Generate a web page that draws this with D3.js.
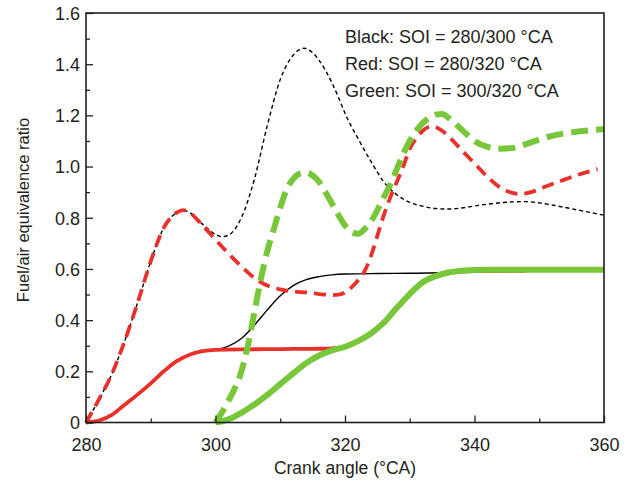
<!DOCTYPE html>
<html>
<head>
<meta charset="utf-8">
<script src="https://cdn.jsdelivr.net/npm/d3@7"></script>
<style>
  body { margin: 0; background: #fff; }
  svg { display: block; }
  text { font-family: "Liberation Sans", Arial, sans-serif; fill: #231f20; }
</style>
</head>
<body>
<svg id="chart" width="630" height="481"></svg>
<script>
// ---- data (crank angle °CA, fuel/air equivalence ratio) ----
const xTicks = [280, 300, 320, 340, 360];
const yTicks = [0, 0.2, 0.4, 0.6, 0.8, 1.0, 1.2, 1.4, 1.6];
const yTickLabels = ["0", "0.2", "0.4", "0.6", "0.8", "1.0", "1.2", "1.4", "1.6"];
const legendLines = ["Black: SOI = 280/300 °CA", "Red: SOI = 280/320 °CA", "Green: SOI = 300/320 °CA"];

const blackDashed = [
  [280,0],[282,0.09],[284,0.19],[286,0.32],[288,0.47],[290,0.63],[292,0.76],[294,0.82],[295,0.83],
  [296,0.82],[298,0.775],[300,0.735],[301,0.726],[302,0.732],[304,0.80],[306,0.95],[308,1.16],
  [310,1.34],[312,1.435],[313.7,1.462],[315,1.445],[317,1.375],[319,1.27],[320,1.208],[322,1.11],
  [324,1.02],[326,0.94],[328,0.89],[330,0.86],[332,0.845],[334,0.836],[336,0.834],[338,0.838],
  [340,0.846],[343,0.856],[346,0.862],[348,0.863],[350,0.858],[353,0.845],[356,0.83],[360,0.81]
];
const redDashed = [
  [280,0],[282,0.09],[284,0.19],[286,0.32],[288,0.47],[290,0.63],[292,0.76],[294,0.82],[295,0.83],
  [296,0.82],[298,0.77],[300,0.715],[302,0.66],[304,0.61],[306,0.565],[308,0.535],[310,0.52],
  [312,0.512],[314,0.508],[316,0.502],[318,0.498],[319,0.5],[320,0.508],[321,0.528],[322,0.555],
  [323,0.59],[324,0.65],[325,0.73],[326,0.81],[327,0.88],[328,0.94],[329,1.0],[330,1.07],
  [331,1.11],[332,1.14],[333.5,1.158],[335,1.14],[336.5,1.105],[338,1.065],[340,1.012],
  [342,0.96],[344,0.918],[346,0.896],[347,0.893],[349,0.902],[351,0.922],[354,0.95],[356,0.968],[359,0.99]
];
const greenDashed = [
  [300,0],[301,0.04],[302,0.085],[303,0.135],[304,0.2],[305,0.3],[306,0.43],[307,0.56],[308,0.67],
  [309,0.755],[310,0.84],[311,0.91],[312,0.952],[313,0.972],[314,0.976],[315,0.965],[316,0.94],
  [317,0.9],[318,0.855],[319,0.81],[320,0.77],[321,0.745],[322,0.737],[323,0.755],[324,0.785],
  [325,0.83],[326,0.88],[327,0.93],[328,0.99],[329,1.05],[330,1.10],[331,1.14],[332,1.17],
  [333,1.19],[334,1.203],[335,1.205],[336,1.19],[338,1.145],[340,1.10],[342,1.077],[344,1.07],
  [346,1.073],[348,1.088],[350,1.106],[352,1.12],[354,1.13],[356,1.137],[358,1.142],[360,1.146]
];
const blackSolid = [
  [280,0],[282,0.008],[284,0.03],[286,0.07],[288,0.11],[290,0.153],[292,0.2],[294,0.24],[296,0.265],
  [298,0.279],[300,0.284],[302,0.298],[304,0.328],[306,0.38],[308,0.44],[310,0.495],[312,0.535],
  [314,0.558],[316,0.57],[318,0.577],[320,0.58],[325,0.582],[330,0.583],[335,0.585],[340,0.588],[345,0.59]
];
const redSolid = [
  [280,0],[282,0.008],[284,0.03],[286,0.07],[288,0.11],[290,0.153],[292,0.2],[294,0.24],[296,0.265],
  [298,0.279],[300,0.284],[305,0.286],[310,0.287],[315,0.288],[318,0.29],[320,0.295],[322,0.316],
  [324,0.346],[326,0.388],[328,0.446],[330,0.5],[332,0.546],[334,0.57],[336,0.584],[338,0.59],
  [340,0.592],[344,0.593],[348,0.593]
];
const greenSolid = [
  [300,0],[302,0.012],[304,0.038],[306,0.07],[308,0.108],[310,0.15],
  [312,0.192],[314,0.232],[316,0.262],[318,0.282],[320,0.296],[322,0.318],[324,0.348],
  [326,0.39],[328,0.448],[330,0.502],[332,0.548],[334,0.572],[336,0.586],[338,0.593],[340,0.596],
  [350,0.597],[360,0.597]
];

// ---- layout ----
const svg = d3.select("#chart");
const L = 86, R = 604, T = 13, B = 422.5;
const x = d3.scaleLinear().domain([280, 360]).range([L, R]);
const y = d3.scaleLinear().domain([0, 1.6]).range([B, T]);

const red = "#e8312a", green = "#78c73b";

const plot = svg.append("g");
plot.append("clipPath").attr("id", "clip").append("rect")
  .attr("x", L - 3).attr("y", T).attr("width", R - L + 6).attr("height", B - T + 3);

const line = d3.line().x(d => x(d[0])).y(d => y(d[1])).curve(d3.curveMonotoneX);
const lines = plot.append("g").attr("clip-path", "url(#clip)");

function draw(data, color, width, dash) {
  lines.append("path").datum(data).attr("d", line)
    .attr("fill", "none").attr("stroke", color).attr("stroke-width", width)
    .attr("stroke-dasharray", dash || null).attr("stroke-linejoin", "round");
}
draw(blackDashed, "#000", 1.4, "4,3");
draw(blackSolid, "#000", 1.4);
draw(redSolid, red, 3.8);
draw(redDashed, red, 3.8, "12,7");
draw(greenSolid, green, 6);
draw(greenDashed, green, 6, "17,8");

// ---- axes (ticks inward, frame) ----
const axisColor = "#231f20";
const xAxis = d3.axisBottom(x).tickValues(d3.range(280, 361, 10)).tickSize(0).tickFormat("");
const gx = svg.append("g").attr("transform", `translate(0,${B})`).call(xAxis);
gx.select(".domain").remove();
gx.selectAll(".tick line").remove();
gx.selectAll(".tick").append("line")
  .attr("y1", 0).attr("y2", d => (d % 20 === 0 ? -7 : -4))
  .attr("stroke", axisColor).attr("stroke-width", 1.3);
gx.selectAll(".tick").filter(d => xTicks.includes(d)).append("text")
  .attr("y", 28).attr("text-anchor", "middle").attr("font-size", 18)
  .text(d => d);

const yAxis = d3.axisLeft(y).tickValues(d3.range(0, 17).map(i => i / 10)).tickSize(0).tickFormat("");
const gy = svg.append("g").attr("transform", `translate(${L},0)`).call(yAxis);
gy.select(".domain").remove();
gy.selectAll(".tick line").remove();
gy.selectAll(".tick").append("line")
  .attr("x1", 0).attr("x2", (d, i) => (i % 2 === 0 ? 7 : 4))
  .attr("stroke", axisColor).attr("stroke-width", 1.3);
gy.selectAll(".tick").filter((d, i) => i % 2 === 0).append("text")
  .attr("x", -6).attr("dy", "0.35em").attr("text-anchor", "end").attr("font-size", 18)
  .text((d, i) => yTickLabels[yTicks.findIndex(v => Math.abs(v - d) < 1e-6)]);

svg.append("rect").attr("x", L).attr("y", T).attr("width", R - L).attr("height", B - T)
  .attr("fill", "none").attr("stroke", axisColor).attr("stroke-width", 1.6);

// ---- titles ----
svg.append("text").attr("x", 345).attr("y", 474).attr("text-anchor", "middle")
  .attr("font-size", 17.5).text("Crank angle (°CA)");
svg.append("text").attr("transform", `translate(29,210) rotate(-90)`)
  .attr("text-anchor", "middle").attr("font-size", 16.5).text("Fuel/air equivalence ratio");

// ---- legend text ----
svg.append("g").selectAll("text").data(legendLines).join("text")
  .attr("x", 345).attr("y", (d, i) => 43 + i * 27).attr("font-size", 18).text(d => d);
</script>
</body>
</html>
